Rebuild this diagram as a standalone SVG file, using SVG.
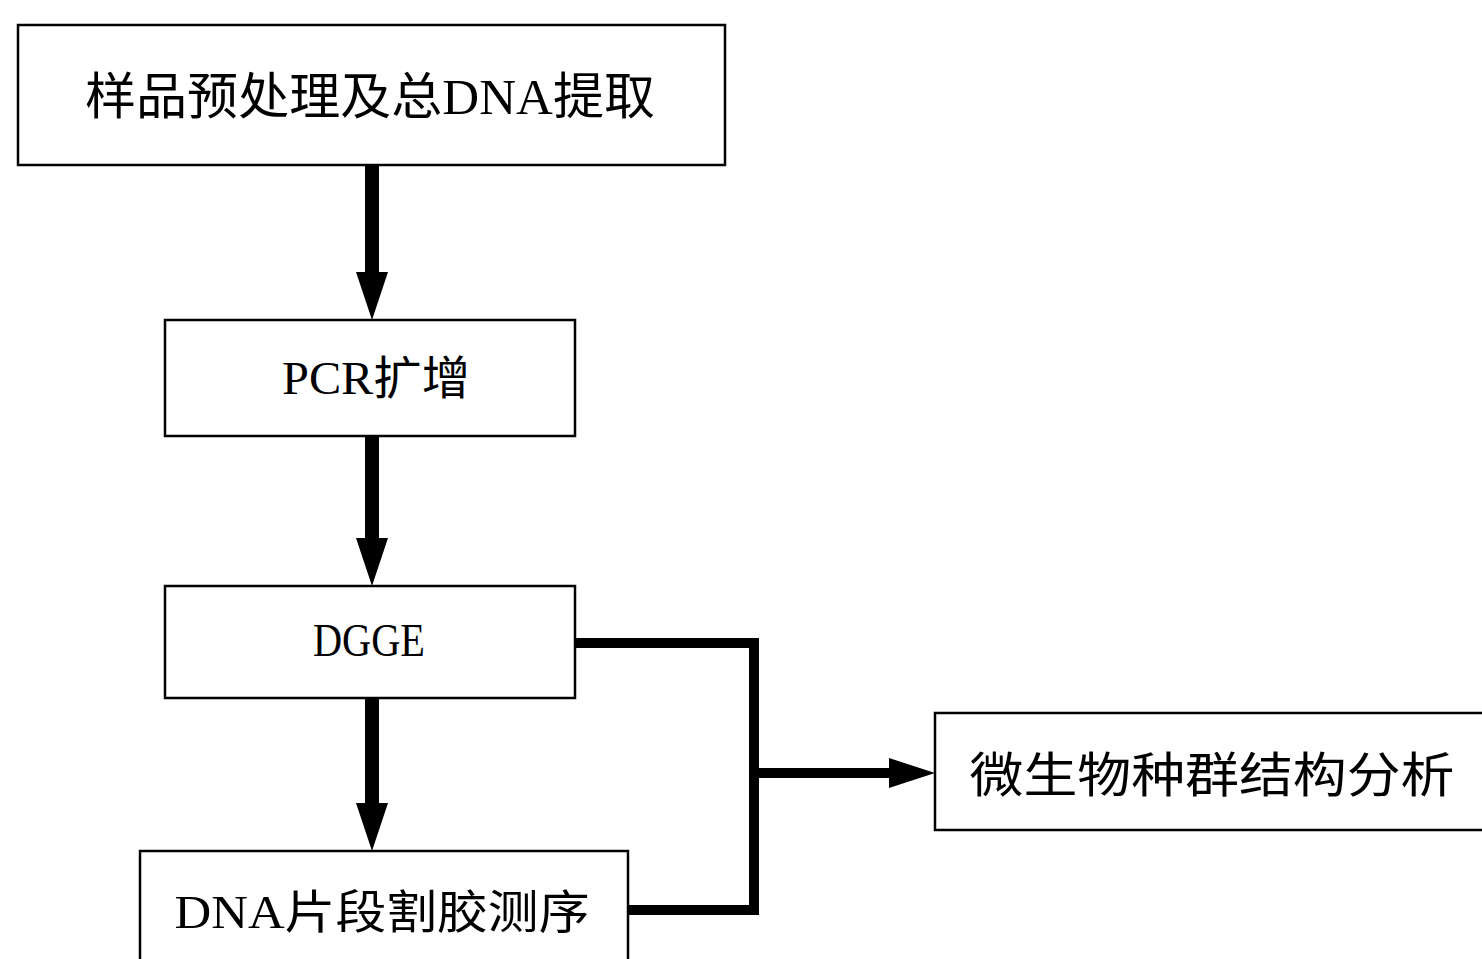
<svg xmlns="http://www.w3.org/2000/svg" width="1482" height="959" viewBox="0 0 1482 959">
<defs>
<style>
.box{fill:#fff;stroke:#000;stroke-width:2.5}
.lbl{font-family:"Liberation Serif","Noto Sans CJK SC",serif;fill:#000;text-anchor:middle;dominant-baseline:central}
.shaft{fill:none;stroke:#000;stroke-width:14}
.route{fill:none;stroke:#000;stroke-width:10;stroke-linejoin:miter}
</style>
<marker id="ah" viewBox="0 0 48 32" refX="0" refY="16" markerWidth="48" markerHeight="32" markerUnits="userSpaceOnUse" orient="auto">
<path d="M0,0 L48,16 L0,32 z" fill="#000"/>
</marker>
<marker id="ah2" viewBox="0 0 46 30" refX="0" refY="15" markerWidth="46" markerHeight="30" markerUnits="userSpaceOnUse" orient="auto">
<path d="M0,0 L46,15 L0,30 z" fill="#000"/>
</marker>
</defs>
<g id="connectors">
<line class="shaft" x1="372" y1="166" x2="372" y2="272" marker-end="url(#ah)"/>
<line class="shaft" x1="372" y1="437" x2="372" y2="538" marker-end="url(#ah)"/>
<line class="shaft" x1="372" y1="699" x2="372" y2="803" marker-end="url(#ah)"/>
<polyline class="route" points="576,643 754,643 754,910 629,910"/>
<line class="route" x1="754" y1="773" x2="889" y2="773" stroke-width="12" marker-end="url(#ah2)"/>
</g>
<g id="n1">
<rect class="box" x="18" y="25" width="707" height="140"/>
<text class="lbl" x="370" y="97" font-size="50" textLength="570" lengthAdjust="spacingAndGlyphs">样品预处理及总DNA提取</text>
</g>
<g id="n2">
<rect class="box" x="165" y="320" width="410" height="116"/>
<text class="lbl" x="376" y="378" font-size="46" textLength="188" lengthAdjust="spacingAndGlyphs">PCR扩增</text>
</g>
<g id="n3">
<rect class="box" x="165" y="586" width="410" height="112"/>
<text class="lbl" x="369" y="640" font-size="46" textLength="112" lengthAdjust="spacingAndGlyphs">DGGE</text>
</g>
<g id="n4">
<rect class="box" x="140" y="851" width="488" height="130"/>
<text class="lbl" x="382" y="912" font-size="46" textLength="415" lengthAdjust="spacingAndGlyphs">DNA片段割胶测序</text>
</g>
<g id="n5">
<rect class="box" x="935" y="713" width="570" height="117"/>
<text class="lbl" x="1212" y="775" font-size="48" textLength="485" lengthAdjust="spacingAndGlyphs">微生物种群结构分析</text>
</g>
</svg>
